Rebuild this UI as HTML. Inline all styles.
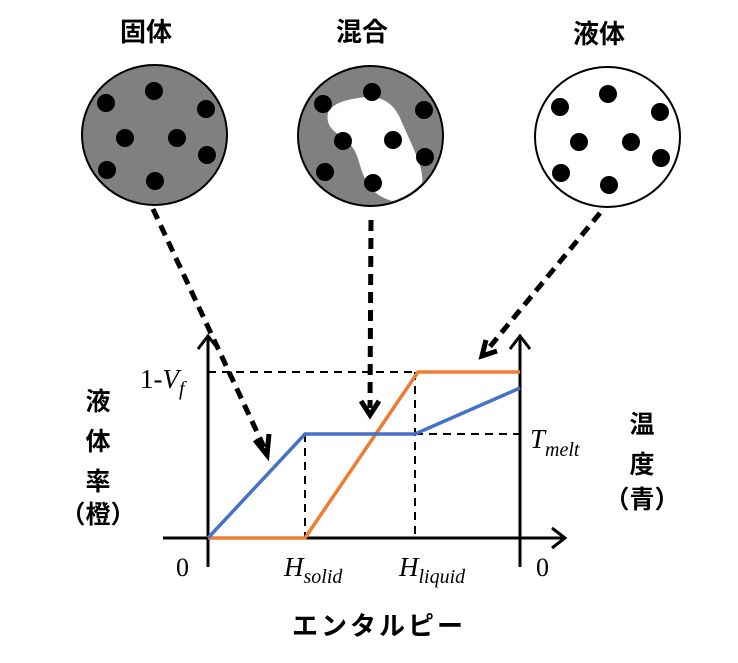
<!DOCTYPE html>
<html><head><meta charset="utf-8"><style>
html,body{margin:0;padding:0;background:#fff;}
svg{display:block;}
.jp{font-family:"Liberation Sans","Noto Sans CJK JP",sans-serif;font-weight:bold;}
.sr{font-family:"Liberation Serif",serif;}
</style></head><body>
<svg width="738" height="663" viewBox="0 0 738 663" xmlns="http://www.w3.org/2000/svg">
<defs><clipPath id="c2"><ellipse cx="370.5" cy="136" rx="71" ry="68.5"/></clipPath></defs>
<!-- titles -->
<text class="jp" x="146" y="41" font-size="26" text-anchor="middle">固体</text>
<text class="jp" x="362" y="41" font-size="26" text-anchor="middle">混合</text>
<text class="jp" x="599" y="43" font-size="26" text-anchor="middle">液体</text>
<!-- circle 1 -->
<ellipse cx="154.5" cy="135" rx="72.5" ry="70" fill="#808080" stroke="#000" stroke-width="2"/>
<g fill="#000">
<circle cx="154" cy="91" r="9"/><circle cx="106" cy="103" r="9"/><circle cx="206" cy="109" r="9"/>
<circle cx="125" cy="138" r="9"/><circle cx="177" cy="138" r="9"/><circle cx="207" cy="155" r="9"/>
<circle cx="107" cy="170" r="9"/><circle cx="155" cy="181" r="9"/>
</g>
<!-- circle 2 -->
<ellipse cx="370.5" cy="136" rx="72.5" ry="70" fill="#808080" stroke="#000" stroke-width="2"/>
<path clip-path="url(#c2)" d="M328,113 C332,102 350,99 366,97 C382,96 394,104 400,118 C406,132 414,148 420,165 C424,180 424,195 412,201 C400,205 385,200 376,193 C366,185 362,172 359,162 C356,150 350,142 340,135 C330,130 326,122 328,113 Z" fill="#fff"/>
<g fill="#000">
<circle cx="372" cy="92" r="9"/><circle cx="323" cy="104" r="9"/><circle cx="424" cy="110" r="9"/>
<circle cx="343" cy="141" r="9"/><circle cx="393" cy="140" r="9"/><circle cx="425" cy="157" r="9"/>
<circle cx="325" cy="172" r="9"/><circle cx="373" cy="183" r="9"/>
</g>
<!-- circle 3 -->
<ellipse cx="607.5" cy="137" rx="72.5" ry="70" fill="#fff" stroke="#000" stroke-width="2"/>
<g fill="#000">
<circle cx="608" cy="94" r="9"/><circle cx="560" cy="107" r="9"/><circle cx="660" cy="112" r="9"/>
<circle cx="579" cy="142" r="9"/><circle cx="631" cy="142" r="9"/><circle cx="661" cy="158" r="9"/>
<circle cx="561" cy="173" r="9"/><circle cx="609" cy="185" r="9"/>
</g>
<!-- dashed guide lines -->
<g stroke="#000" stroke-width="2" stroke-dasharray="8,6" fill="none">
<line x1="208" y1="372" x2="418" y2="372"/>
<line x1="305" y1="434" x2="305" y2="538"/>
<line x1="415" y1="372" x2="415" y2="538"/>
<line x1="415" y1="434" x2="520" y2="434"/>
</g>
<!-- axes -->
<g stroke="#000" stroke-width="3" fill="none">
<line x1="163" y1="538" x2="564" y2="538"/>
<polyline points="552,528 565,538 552,548"/>
<line x1="208" y1="336" x2="208" y2="567"/>
<polyline points="198,349 208,336 218,349"/>
<line x1="520" y1="336" x2="520" y2="567"/>
<polyline points="510,349 520,336 530,349"/>
</g>
<!-- curves -->
<polyline points="208,538 305,538 418,372 520,372" fill="none" stroke="#ed7d31" stroke-width="3.5"/>
<polyline points="208,538 305,434 415,434 520,388" fill="none" stroke="#4472c4" stroke-width="3.5"/>
<!-- dashed arrows -->
<g stroke="#000" stroke-width="5" stroke-dasharray="11,7" fill="none">
<line x1="153" y1="209" x2="264" y2="447"/>
<line x1="371" y1="220" x2="370" y2="408"/>
<line x1="600" y1="213" x2="488" y2="349"/>
</g>
<g stroke="#000" stroke-width="5" fill="none" stroke-linejoin="miter">
<polyline points="255,440 267,455 269,434"/>
<polyline points="361,401 370,415 379,401"/>
<polyline points="486,340 482,356 497,351"/>
</g>
<!-- labels -->
<text class="sr" x="140" y="388" font-size="27">1-<tspan font-style="italic">V</tspan><tspan font-style="italic" font-size="20" dy="7">f</tspan></text>
<text class="sr" x="530" y="448" font-size="27" font-style="italic">T<tspan font-size="20" dy="8">melt</tspan></text>
<text class="sr" x="176" y="576" font-size="26">0</text>
<text class="sr" x="536" y="576" font-size="26">0</text>
<text class="sr" x="284" y="576" font-size="27" font-style="italic">H<tspan font-size="20" dy="7">solid</tspan></text>
<text class="sr" x="399" y="576" font-size="27" font-style="italic">H<tspan font-size="20" dy="7">liquid</tspan></text>
<g class="jp" font-size="25" text-anchor="middle">
<text x="98" y="410">液</text>
<text x="98" y="450">体</text>
<text x="98" y="490">率</text>
<text x="98" y="523">（橙）</text>
<text x="642" y="433">温</text>
<text x="642" y="473">度</text>
<text x="642" y="508">（青）</text>
</g>
<text class="jp" x="379" y="635" font-size="26" text-anchor="middle" letter-spacing="3">エンタルピー</text>
</svg>
</body></html>
